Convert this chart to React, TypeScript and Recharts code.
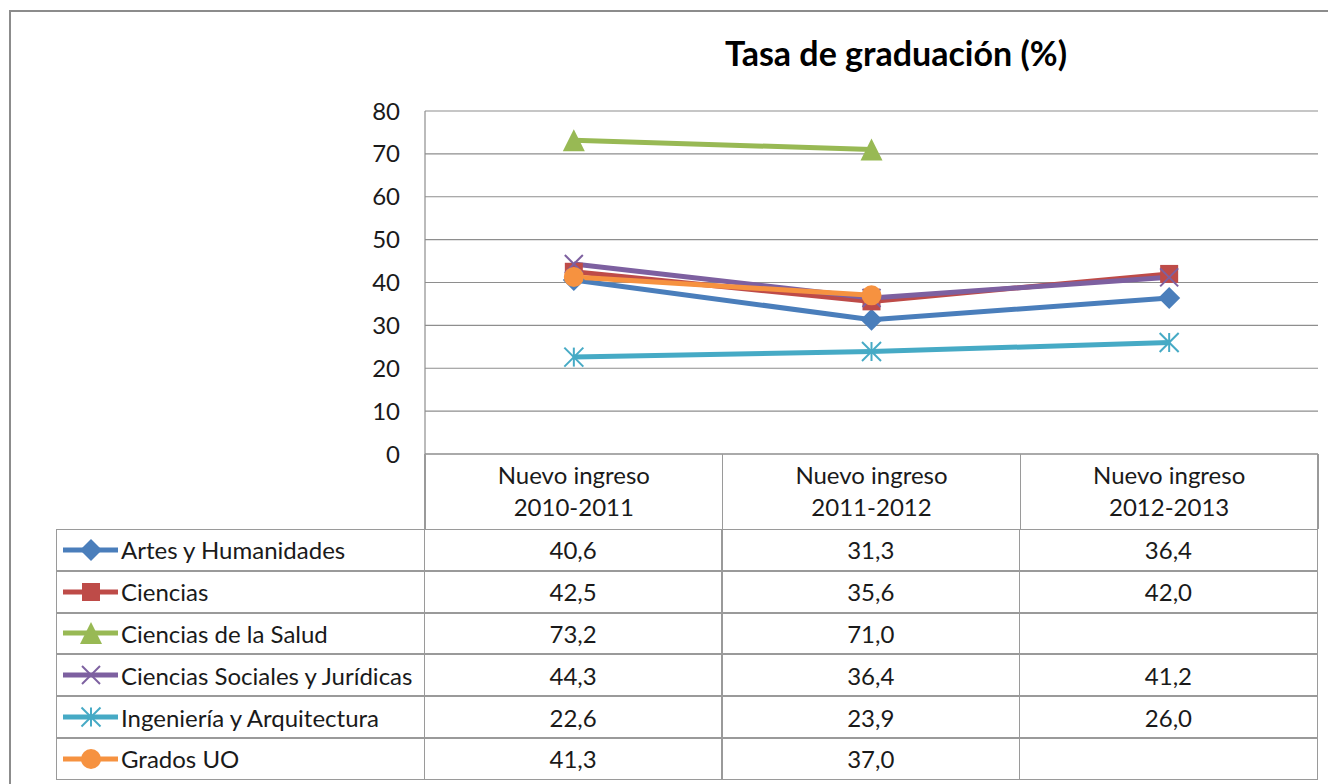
import React from 'react';
import { LineChart, Line, XAxis, YAxis, CartesianGrid } from 'recharts';

const categories = ['2010-2011', '2011-2012', '2012-2013'];
const categoryPrefix = 'Nuevo ingreso';
const yTicks = [0, 10, 20, 30, 40, 50, 60, 70, 80];

const seriesNames = [
  'Artes y Humanidades',
  'Ciencias',
  'Ciencias de la Salud',
  'Ciencias Sociales y Jurídicas',
  'Ingeniería y Arquitectura',
  'Grados UO',
];
const artes = [40.6, 31.3, 36.4];
const ciencias = [42.5, 35.6, 42.0];
const salud = [73.2, 71.0, null];
const sociales = [44.3, 36.4, 41.2];
const ingenieria = [22.6, 23.9, 26.0];
const grados = [41.3, 37.0, null];

const seriesValues = [artes, ciencias, salud, sociales, ingenieria, grados];
const seriesColors = ['#4A7EBB', '#BE4B48', '#98B954', '#7D60A0', '#46AAC5', '#F69240'];
const seriesMarkers = ['diamond', 'square', 'triangle', 'x', 'star', 'circle'];

const data = categories.map((c, i) => {
  const row: any = { name: c };
  seriesValues.forEach((vals, s) => {
    row['s' + s] = vals[i];
  });
  return row;
});

const FONT = 'Lato, "Noto Sans", sans-serif';
const TEXT = '#1a1a1a';
const BORDER = '#9a9a9a';
const FS = 24;

function Marker({ type, cx, cy, color }: any) {
  if (cx == null || cy == null || isNaN(cx) || isNaN(cy)) return null;
  switch (type) {
    case 'diamond': {
      const r = 11;
      return <polygon points={`${cx},${cy - r} ${cx + r},${cy} ${cx},${cy + r} ${cx - r},${cy}`} fill={color} />;
    }
    case 'square': {
      const r = 9;
      return <rect x={cx - r} y={cy - r} width={2 * r} height={2 * r} fill={color} />;
    }
    case 'triangle': {
      const r = 11;
      return <polygon points={`${cx},${cy - r} ${cx + r},${cy + r} ${cx - r},${cy + r}`} fill={color} />;
    }
    case 'x': {
      const r = 9;
      return (
        <g stroke={color} strokeWidth={2}>
          <line x1={cx - r} y1={cy - r} x2={cx + r} y2={cy + r} />
          <line x1={cx - r} y1={cy + r} x2={cx + r} y2={cy - r} />
        </g>
      );
    }
    case 'star': {
      const r = 9.5;
      return (
        <g stroke={color} strokeWidth={2}>
          <line x1={cx - r} y1={cy - r} x2={cx + r} y2={cy + r} />
          <line x1={cx - r} y1={cy + r} x2={cx + r} y2={cy - r} />
          <line x1={cx} y1={cy - r} x2={cx} y2={cy + r} />
        </g>
      );
    }
    case 'circle':
    default:
      return <circle cx={cx} cy={cy} r={10} fill={color} />;
  }
}

function XTick(props: any) {
  const { x, y, payload } = props;
  return (
    <g>
      <text x={x} y={y + 22} textAnchor="middle" fontSize={FS} fill={TEXT} fontFamily={FONT}>
        {categoryPrefix}
      </text>
      <text x={x} y={y + 54} textAnchor="middle" fontSize={FS} fill={TEXT} fontFamily={FONT}>
        {payload.value}
      </text>
    </g>
  );
}

const fmt = (v: number | null) => (v == null ? '' : v.toFixed(1).replace('.', ','));

// layout constants
const PLOT_LEFT = 425;
const PLOT_RIGHT = 1318;
const PLOT_TOP = 111;
const PLOT_BOTTOM = 454;
const TABLE_LEFT = 56;
const HEADER_BOTTOM = 529;
const ROW_H = 41.8;

export default function App() {
  const colW = (PLOT_RIGHT - PLOT_LEFT) / categories.length;
  return (
    <div style={{ position: 'absolute', left: 0, top: 0, width: 1328, height: 784, background: '#fff', overflow: 'hidden' }}>
      <div
        style={{
          position: 'absolute',
          left: 9,
          top: 10,
          width: 1340,
          height: 800,
          border: '2px solid #8c8c8c',
          boxSizing: 'border-box',
        }}
      />
      <div
        style={{
          position: 'absolute',
          left: 0,
          width: 1792,
          top: 33,
          textAlign: 'center',
          fontFamily: FONT,
          fontWeight: 700,
          fontSize: 34,
          color: '#000',
          lineHeight: '40px',
        }}
      >
        Tasa de graduación (%)
      </div>
      <div style={{ position: 'absolute', left: 0, top: 0 }}>
        <LineChart
          width={1328}
          height={784}
          data={data}
          margin={{ top: PLOT_TOP, right: 1328 - PLOT_RIGHT, bottom: 0, left: PLOT_LEFT - 60 }}
        >
          <CartesianGrid horizontal vertical={false} stroke="#8e8e8e" strokeWidth={1.2} />
          <XAxis
            dataKey="name"
            height={784 - PLOT_BOTTOM}
            axisLine={{ stroke: '#8e8e8e', strokeWidth: 1.2 }}
            tickLine={false}
            tick={<XTick />}
            interval={0}
            padding={{ left: colW / 2, right: colW / 2 }}
          />
          <YAxis
            width={60}
            domain={[0, 80]}
            ticks={yTicks}
            axisLine={{ stroke: '#8e8e8e', strokeWidth: 1.2 }}
            tickLine={false}
            tickMargin={19}
            tick={{ fontSize: FS, fill: TEXT, fontFamily: FONT }}
          />
          {seriesNames.map((n, s) => (
            <Line
              key={n}
              dataKey={'s' + s}
              name={n}
              stroke={seriesColors[s]}
              strokeWidth={5}
              isAnimationActive={false}
              connectNulls={false}
              dot={(p: any) => <Marker key={p.index} type={seriesMarkers[s]} cx={p.cx} cy={p.cy} color={seriesColors[s]} />}
              activeDot={false}
            />
          ))}
        </LineChart>
      </div>
      {/* header column separators */}
      {[0, 1, 2, 3].map((i) => (
        <div
          key={'hv' + i}
          style={{
            position: 'absolute',
            left: PLOT_LEFT + i * colW - 0.75,
            top: PLOT_BOTTOM,
            width: 1.5,
            height: HEADER_BOTTOM - PLOT_BOTTOM,
            background: BORDER,
          }}
        />
      ))}
      {/* data table */}
      <div style={{ position: 'absolute', left: TABLE_LEFT, top: HEADER_BOTTOM }}>
        {seriesNames.map((n, s) => (
          <div key={n} style={{ position: 'absolute', left: 0, top: s * ROW_H, width: PLOT_RIGHT - TABLE_LEFT, height: ROW_H }}>
            <div
              style={{
                position: 'absolute',
                left: 0,
                top: 0,
                width: PLOT_LEFT - TABLE_LEFT,
                height: ROW_H,
                border: `1.5px solid ${BORDER}`,
                boxSizing: 'border-box',
                display: 'flex',
                alignItems: 'center',
                fontFamily: FONT,
                fontSize: FS,
                color: TEXT,
                whiteSpace: 'nowrap',
              }}
            >
              <svg width={60} height={24} style={{ marginLeft: 4, flex: 'none' }}>
                <line x1={2} y1={12} x2={57} y2={12} stroke={seriesColors[s]} strokeWidth={5} />
                <Marker type={seriesMarkers[s]} cx={30} cy={12} color={seriesColors[s]} />
              </svg>
              <span>{n}</span>
            </div>
            {seriesValues[s].map((v, i) => (
              <div
                key={i}
                style={{
                  position: 'absolute',
                  left: PLOT_LEFT - TABLE_LEFT + i * colW - 1.5,
                  top: 0,
                  width: colW + 1.5,
                  height: ROW_H,
                  border: `1.5px solid ${BORDER}`,
                  boxSizing: 'border-box',
                  display: 'flex',
                  alignItems: 'center',
                  justifyContent: 'center',
                  fontFamily: FONT,
                  fontSize: FS,
                  color: TEXT,
                }}
              >
                {fmt(v)}
              </div>
            ))}
          </div>
        ))}
      </div>
    </div>
  );
}
